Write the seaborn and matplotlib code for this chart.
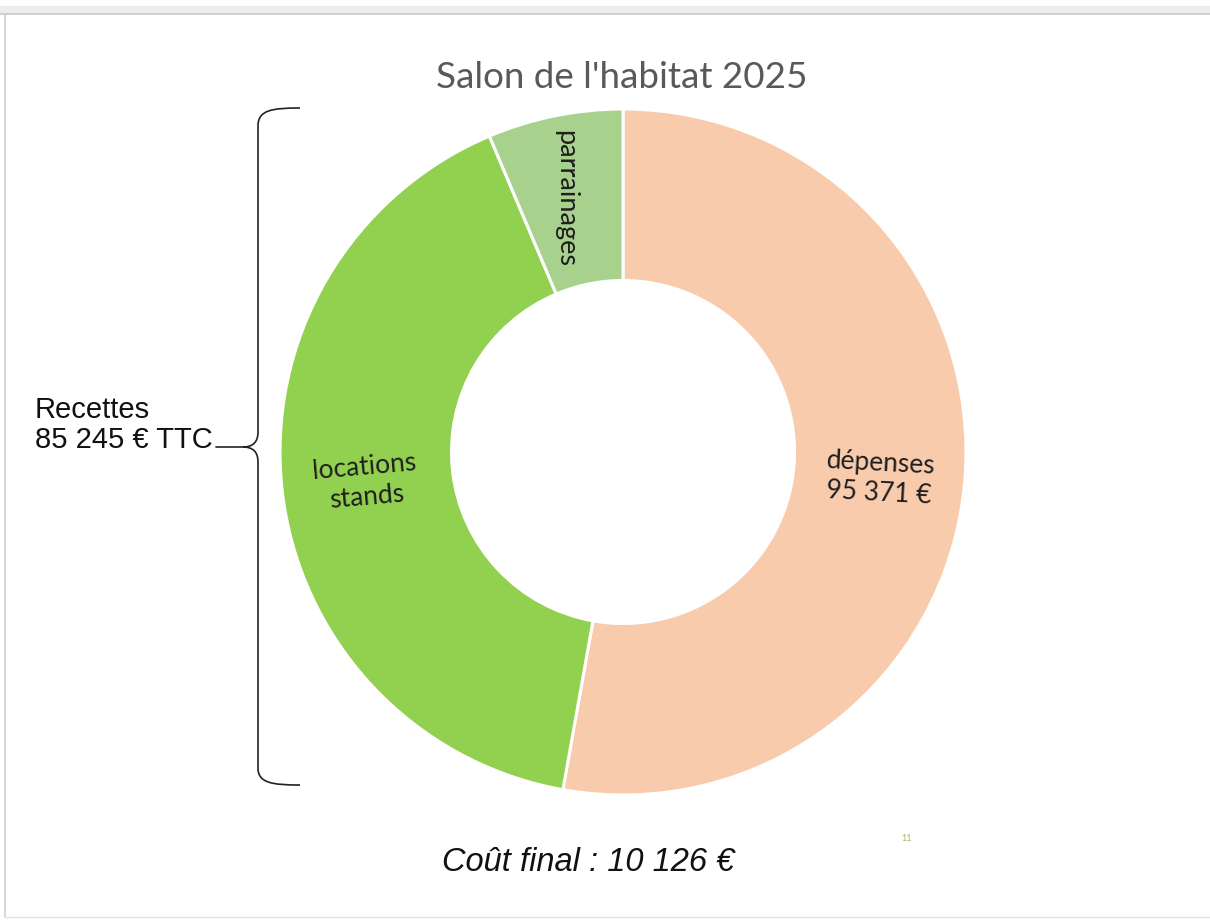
import matplotlib
matplotlib.use("Agg")
import matplotlib.pyplot as plt
import seaborn as sns
from matplotlib.path import Path
from matplotlib.patches import PathPatch, Rectangle
from matplotlib.lines import Line2D

sns.set_theme(style="white")
plt.rcParams['font.family'] = ['Lato', 'DejaVu Sans']

# Data
categories = ["dépenses", "locations\nstands", "parrainages"]
values = [95371, 73745, 11500]
labels_value = ["dépenses\n95 371 €", "locations\nstands", "parrainages"]
colors = ["#F8CBAD", "#92D050", "#A9D18E"]
title = "Salon de l'habitat 2025"
recettes_text = "Recettes\n85 245 € TTC"
cout_text = "Coût final : 10 126 €"
page_number = "11"

W, H = 1210, 921
fig = plt.figure(figsize=(W / 100, H / 100), dpi=100)
fig.patch.set_facecolor("white")

def fx(x):
    return x / W

def fy(y):
    return 1 - y / H

# Screenshot frame
fig.add_artist(Rectangle((0, fy(14)), 1, 8 / H, transform=fig.transFigure,
                         facecolor="#ededed", edgecolor="none"))
fig.add_artist(Line2D([0, 1], [fy(14), fy(14)], transform=fig.transFigure,
                      color="#c8c8c8", lw=1.2))
fig.add_artist(Line2D([fx(5), fx(5)], [fy(14), fy(917)], transform=fig.transFigure,
                      color="#d0d0d0", lw=1.2))
fig.add_artist(Line2D([fx(5), 1], [fy(917), fy(917)], transform=fig.transFigure,
                      color="#e0e0e0", lw=1.0))

# Donut axes: center (623, 452), radius 343 px
cx, cy, r = 623, 452, 343
ax = fig.add_axes([fx(cx - r), fy(cy + r), 2 * r / W, 2 * r / H])
wedges, _ = ax.pie(values, colors=colors, startangle=90, counterclock=False,
                   radius=1, wedgeprops=dict(width=0.5, edgecolor="white", linewidth=2.2))
ax.set_xlim(-1, 1)
ax.set_ylim(-1, 1)
ax.set_aspect("equal")
ax.axis("off")

# Slice labels (in data coords)
ax.text((880 - cx) / r, (cy - 478) / r, labels_value[0], ha="center", va="center",
        fontsize=19, color="#1e1e1e", linespacing=1.25, rotation=-3)
ax.text((366 - cx) / r, (cy - 482) / r, labels_value[1], ha="center", va="center",
        fontsize=19, color="#1e1e1e", linespacing=1.25, rotation=5)
ax.text((566 - cx) / r, (cy - 198) / r, labels_value[2], ha="center", va="center",
        fontsize=19.5, color="#1e1e1e", rotation=-90)

# Title
fig.text(fx(622), fy(78), title, ha="center", va="center", fontsize=26.5, color="#595959")

# Recettes text
fig.text(fx(35), fy(425), recettes_text, ha="left", va="center", fontsize=21,
         color="#111111", family=["Liberation Sans", "DejaVu Sans"], linespacing=1.1)

# Curly brace
verts = [(300, 108), (272, 108), (258, 110), (258, 126),
         (258, 432),
         (258, 442), (253, 447), (243, 447),
         (253, 447), (258, 452), (258, 462),
         (258, 768),
         (258, 783), (272, 785), (300, 785)]
codes = [Path.MOVETO, Path.CURVE4, Path.CURVE4, Path.CURVE4,
         Path.LINETO,
         Path.CURVE4, Path.CURVE4, Path.CURVE4,
         Path.CURVE4, Path.CURVE4, Path.CURVE4,
         Path.LINETO,
         Path.CURVE4, Path.CURVE4, Path.CURVE4]
verts_f = [(fx(x), fy(y)) for x, y in verts]
fig.add_artist(PathPatch(Path(verts_f, codes), transform=fig.transFigure,
                         facecolor="none", edgecolor="#222222", lw=1.2))
fig.add_artist(Line2D([fx(216), fx(243)], [fy(447), fy(447)], transform=fig.transFigure,
                      color="#222222", lw=1.2))

# Final cost
fig.text(fx(588), fy(862), cout_text, ha="center", va="center", fontsize=23.5,
         style="italic", color="#111111", family=["Liberation Sans", "DejaVu Sans"])

# Page number
fig.text(fx(907), fy(838), page_number, ha="center", va="center", fontsize=6.5,
         color="#9BBB59")

fig.savefig("out.png", dpi=100, facecolor="white")
